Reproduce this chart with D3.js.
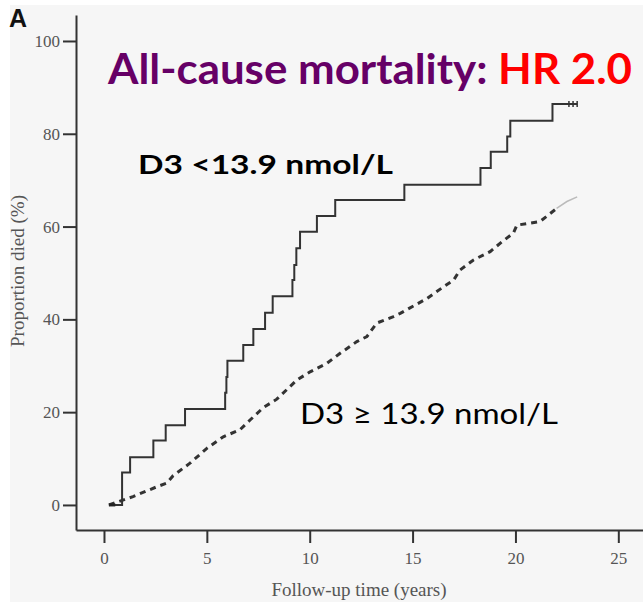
<!DOCTYPE html>
<html>
<head>
<meta charset="utf-8">
<script src="https://cdn.jsdelivr.net/npm/d3@7"></script>
<style>
  body { margin: 0; background: #fff; }
</style>
</head>
<body>
<svg id="chart" width="643" height="602"></svg>
<script>
// Kaplan-Meier style curves
// low D3 group (solid step line): time in years, proportion died in %
const lowTimes = [0.24, 0.88, 1.27, 2.4, 3.0, 3.94, 5.89, 5.95, 6.0, 6.77, 7.26, 7.83, 8.2,
  9.16, 9.25, 9.35, 9.53, 10.35, 11.24, 14.6, 18.3, 18.8, 19.6, 19.75, 21.8, 23.0];
const lowValues = [0, 7.0, 10.3, 13.9, 17.2, 20.7, 24.2, 27.6, 31.1, 34.5, 37.9, 41.4, 45.0,
  48.5, 51.7, 55.3, 58.9, 62.3, 65.7, 69.0, 72.6, 76.1, 79.4, 82.8, 86.4, 86.4];
const lowCensored = [22.6, 22.8, 23.0];

// high D3 group (dashed line)
const highTimes = [0.24, 1.41, 2.56, 3.05, 3.36, 4.18, 5.0, 5.8, 6.61, 7.1, 7.75, 8.4, 9.37,
  10.02, 10.83, 11.48, 12.29, 12.78, 13.26, 14.07, 14.4, 15.7, 16.5, 17.0, 17.3, 17.96,
  18.77, 19.34, 19.9, 20.07, 21.2, 22.0];
const highValues = [0, 1.8, 3.9, 4.7, 6.3, 9.0, 12.2, 14.7, 16.2, 18.3, 21.0, 22.8, 26.9,
  28.7, 30.5, 32.7, 35.2, 36.3, 39.2, 40.6, 41.3, 44.5, 47.0, 48.5, 50.6, 52.8,
  54.6, 56.7, 58.6, 60.3, 61.1, 63.9];
// faint grey tail at the end of the dashed curve
const tailTimes = [22.0, 22.5, 23.0];
const tailValues = [63.9, 65.4, 66.4];

const xTicks = [0, 5, 10, 15, 20, 25];
const yTicks = [0, 20, 40, 60, 80, 100];

const svg = d3.select("#chart");

// grey panel behind the figure
svg.append("rect")
  .attr("x", 10).attr("y", 5)
  .attr("width", 633).attr("height", 597)
  .attr("fill", "#f6f6f6");

// scales - axis lines run a bit past the tick range
const x = d3.scaleLinear().domain([-1.36, 26.2]).range([76, 643]);
const y = d3.scaleLinear().domain([-5.4, 105.6]).range([530, 15]);

const serif = "'Liberation Serif', 'Times New Roman', serif";

// x axis
const gx = svg.append("g")
  .attr("transform", "translate(0,530)")
  .call(d3.axisBottom(x).tickValues(xTicks).tickSize(13).tickSizeOuter(0).tickPadding(9));

// y axis
const gy = svg.append("g")
  .attr("transform", "translate(76,0)")
  .call(d3.axisLeft(y).tickValues(yTicks).tickSize(13).tickSizeOuter(0).tickPadding(3));

[gx, gy].forEach(g => {
  g.select(".domain").attr("stroke", "#333").attr("stroke-width", 2);
  g.selectAll(".tick line").attr("stroke", "#333").attr("stroke-width", 2);
  g.selectAll(".tick text")
    .attr("fill", "#555")
    .style("font-family", serif)
    .style("font-size", "17px");
});

// axis titles
svg.append("text")
  .attr("x", 359).attr("y", 596)
  .attr("text-anchor", "middle")
  .attr("fill", "#555")
  .style("font-family", serif)
  .style("font-size", "19px")
  .text("Follow-up time (years)");

svg.append("text")
  .attr("transform", "translate(24,271) rotate(-90)")
  .attr("text-anchor", "middle")
  .attr("fill", "#555")
  .style("font-family", serif)
  .style("font-size", "19px")
  .text("Proportion died (%)");

// solid step curve
const lowData = lowTimes.map((t, i) => [t, lowValues[i]]);
const stepLine = d3.line()
  .x(d => x(d[0]))
  .y(d => y(d[1]))
  .curve(d3.curveStepAfter);

svg.append("path")
  .datum(lowData)
  .attr("d", stepLine)
  .attr("fill", "none")
  .attr("stroke", "#333")
  .attr("stroke-width", 2);

// censor marks at the end of the solid curve
svg.selectAll(".censor")
  .data(lowCensored)
  .enter()
  .append("line")
  .attr("x1", d => x(d)).attr("x2", d => x(d))
  .attr("y1", y(86.4) - 3).attr("y2", y(86.4) + 3)
  .attr("stroke", "#333")
  .attr("stroke-width", 1.5);

// dashed curve
const highData = highTimes.map((t, i) => [t, highValues[i]]);
const plainLine = d3.line()
  .x(d => x(d[0]))
  .y(d => y(d[1]));

svg.append("path")
  .datum(highData)
  .attr("d", plainLine)
  .attr("fill", "none")
  .attr("stroke", "#333")
  .attr("stroke-width", 3)
  .attr("stroke-dasharray", "6,5");

svg.append("path")
  .datum(tailTimes.map((t, i) => [t, tailValues[i]]))
  .attr("d", plainLine)
  .attr("fill", "none")
  .attr("stroke", "#bbb")
  .attr("stroke-width", 1.5);

// start marker (short dark stub at origin)
svg.append("line")
  .attr("x1", x(0.24)).attr("x2", x(0.55))
  .attr("y1", y(0)).attr("y2", y(0))
  .attr("stroke", "#222").attr("stroke-width", 3);

// panel letter
svg.append("text")
  .attr("x", 9).attr("y", 27)
  .attr("fill", "#111")
  .style("font-family", "'Liberation Sans', Arial, sans-serif")
  .style("font-weight", "bold")
  .style("font-size", "25px")
  .text("A");

// headline
const title = svg.append("text")
  .attr("x", 108).attr("y", 84)
  .attr("textLength", 524)
  .attr("lengthAdjust", "spacingAndGlyphs")
  .style("font-family", "Lato, 'Open Sans', sans-serif")
  .style("font-weight", "bold")
  .style("font-size", "42px");
title.append("tspan").attr("fill", "#660066").text("All-cause mortality: ");
title.append("tspan").attr("fill", "#ff0000").text("HR 2.0");

// group labels
svg.append("text")
  .attr("x", 138).attr("y", 174)
  .attr("textLength", 255)
  .attr("lengthAdjust", "spacingAndGlyphs")
  .attr("fill", "#000")
  .style("font-family", "Lato, 'Open Sans', sans-serif")
  .style("font-weight", "bold")
  .style("font-size", "27px")
  .text("D3 <13.9 nmol/L");

svg.append("text")
  .attr("x", 300).attr("y", 424)
  .attr("textLength", 258)
  .attr("lengthAdjust", "spacingAndGlyphs")
  .attr("fill", "#000")
  .style("font-family", "Lato, 'Open Sans', sans-serif")
  .style("font-size", "28px")
  .text("D3 ≥ 13.9 nmol/L");
</script>
</body>
</html>
